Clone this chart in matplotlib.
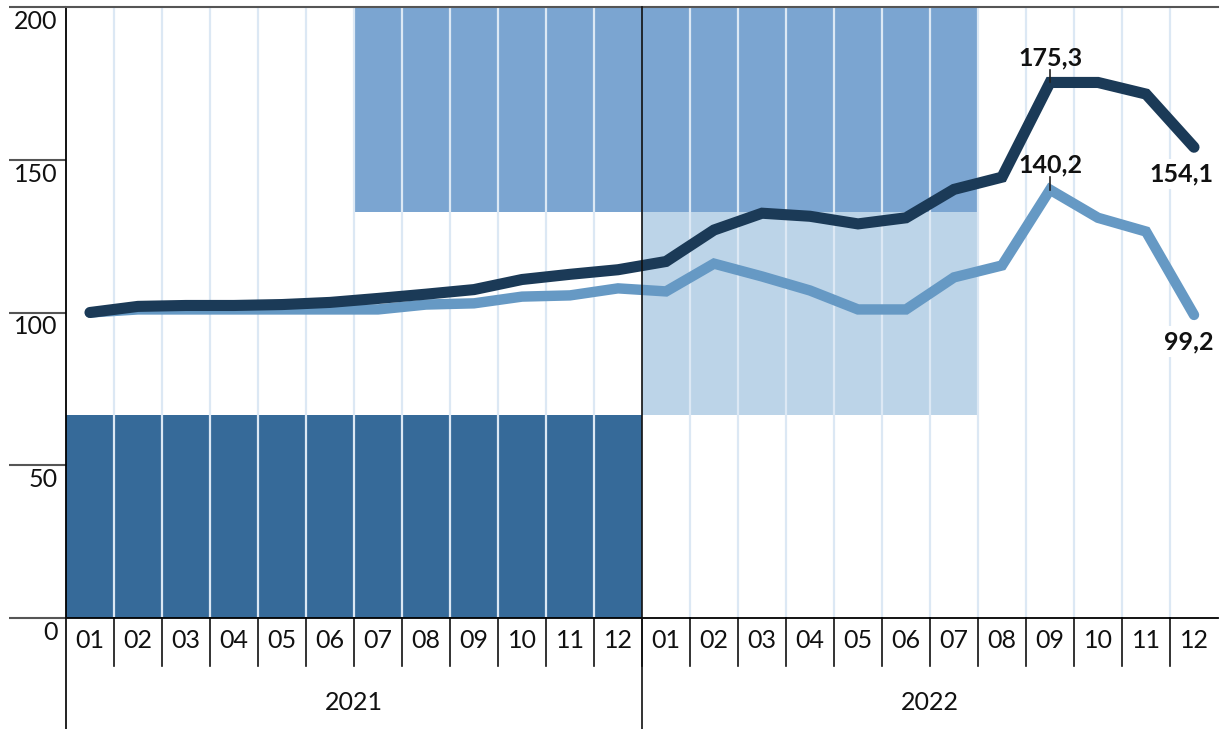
import matplotlib
matplotlib.use("Agg")
import matplotlib.pyplot as plt
import matplotlib.transforms as mtransforms

plt.rcParams['font.family'] = ['Lato', 'DejaVu Sans']

# data
years = ['2021', '2022']
months = ['01', '02', '03', '04', '05', '06', '07', '08', '09', '10', '11', '12',
          '01', '02', '03', '04', '05', '06', '07', '08', '09', '10', '11', '12']
dark_line = [100.0, 102.0, 102.3, 102.3, 102.6, 103.3, 104.6, 106.0, 107.5, 110.8, 112.5, 114.0,
             116.7, 127.0, 132.5, 131.5, 129.0, 131.0, 140.3, 144.3, 175.3, 175.3, 171.5, 154.1]
light_line = [100.0, 101.0, 101.0, 101.0, 101.0, 101.0, 101.0, 102.6, 103.0, 105.2, 105.6, 107.9,
              106.9, 116.0, 111.8, 107.2, 101.0, 101.0, 111.5, 115.4, 140.2, 131.0, 126.5, 99.2]
# bands: (bottom, top) per month, 0/0 = no band
dark_band_top = [66.5, 66.5, 66.5, 66.5, 66.5, 66.5, 66.5, 66.5, 66.5, 66.5, 66.5, 66.5,
                 0, 0, 0, 0, 0, 0, 0, 0, 0, 0, 0, 0]
light_band_bottom = [0, 0, 0, 0, 0, 0, 0, 0, 0, 0, 0, 0,
                     66.5, 66.5, 66.5, 66.5, 66.5, 66.5, 66.5, 0, 0, 0, 0, 0]
light_band_top = [0, 0, 0, 0, 0, 0, 0, 0, 0, 0, 0, 0,
                  133.0, 133.0, 133.0, 133.0, 133.0, 133.0, 133.0, 0, 0, 0, 0, 0]
mid_band_bottom = [0, 0, 0, 0, 0, 0, 133.0, 133.0, 133.0, 133.0, 133.0, 133.0,
                   133.0, 133.0, 133.0, 133.0, 133.0, 133.0, 133.0, 0, 0, 0, 0, 0]
mid_band_top = [0, 0, 0, 0, 0, 0, 200.0, 200.0, 200.0, 200.0, 200.0, 200.0,
                200.0, 200.0, 200.0, 200.0, 200.0, 200.0, 200.0, 0, 0, 0, 0, 0]
yticks = [0, 50, 100, 150, 200]
labels = {20: ('175,3', 'above'), 23: ('154,1', 'below')}
labels_light = {20: ('140,2', 'above'), 23: ('99,2', 'below')}

FS = 18

fig = plt.figure(figsize=(12.2, 7.29), dpi=100)
ax = fig.add_axes([66 / 1220, 1 - 618 / 729, 1152 / 1220, 611 / 729])

n = len(months)
xs = [i + 0.5 for i in range(n)]

ax.bar(xs, dark_band_top, width=1, color='#366a99', zorder=1)
ax.bar(xs, [t - b for t, b in zip(light_band_top, light_band_bottom)], bottom=light_band_bottom,
       width=1, color='#bcd4e8', zorder=1)
ax.bar(xs, [t - b for t, b in zip(mid_band_top, mid_band_bottom)], bottom=mid_band_bottom,
       width=1, color='#7ba5d1', zorder=1)

for i in range(1, n):
    if i == 12:
        continue
    ax.axvline(i, color='#dce8f4', lw=1.6, zorder=1.5)

ax.plot(xs, light_line, color='#6699c4', lw=7.5, solid_capstyle='round', solid_joinstyle='miter', zorder=3)
ax.plot(xs, dark_line, color='#1b3a57', lw=8, solid_capstyle='round', solid_joinstyle='miter', zorder=4)

ax.set_xlim(0, n)
ax.set_ylim(0, 200)
ax.spines['right'].set_visible(False)
ax.spines['top'].set_color('#555555')
ax.spines['top'].set_linewidth(1.5)
ax.spines['bottom'].set_linewidth(1.3)
ax.spines['left'].set_linewidth(1.3)

ax.set_xticks([])
ax.set_yticks(yticks)
ax.set_yticklabels([])
ax.tick_params(axis='y', length=41, width=1.5, color='#555555')
for v in yticks:
    ax.annotate(str(v), xy=(0, v), xycoords=('axes fraction', 'data'), xytext=(-6, -2),
                textcoords='offset points', ha='right', va='top', fontsize=FS, color='#111111')

bt = mtransforms.blended_transform_factory(ax.transData, ax.transAxes)
# year divider and axis extension
ax.plot([12, 12], [-0.182, 1.0], transform=bt, color='#111111', lw=1.2, clip_on=False, zorder=5)
ax.plot([0, 0], [-0.182, 0], transform=bt, color='#111111', lw=1.3, clip_on=False, zorder=5)

for i in range(1, n):
    ax.plot([i, i], [-0.0786, 0], transform=bt, color='#111111', lw=1.2, clip_on=False)
for i, m in enumerate(months):
    ax.text(i + 0.5, -0.037, m, transform=bt, ha='center', va='center', fontsize=FS, color='#111111')
for j, yr in enumerate(years):
    ax.text(6 + 12 * j, -0.139, yr, transform=bt, ha='center', va='center', fontsize=FS, color='#111111')

# value labels
for series, lab in [(dark_line, labels), (light_line, labels_light)]:
    for i, (txt, pos) in lab.items():
        v = series[i]
        if pos == 'above':
            ax.plot([xs[i], xs[i]], [v, v + 4.2], color='#222222', lw=1.2, zorder=5)
            ax.annotate(txt, xy=(xs[i], v), xytext=(0, 9.5), textcoords='offset points',
                        ha='center', va='bottom', fontsize=FS, fontweight='bold', color='#111111',
                        zorder=6)
        else:
            ax.annotate(txt, xy=(xs[i], v), xytext=(14, -11), textcoords='offset points',
                        ha='right', va='top', fontsize=FS, fontweight='bold', color='#111111',
                        bbox=dict(boxstyle='square,pad=0.15', fc='white', ec='none'), zorder=6)

fig.savefig('out.png', dpi=100)
